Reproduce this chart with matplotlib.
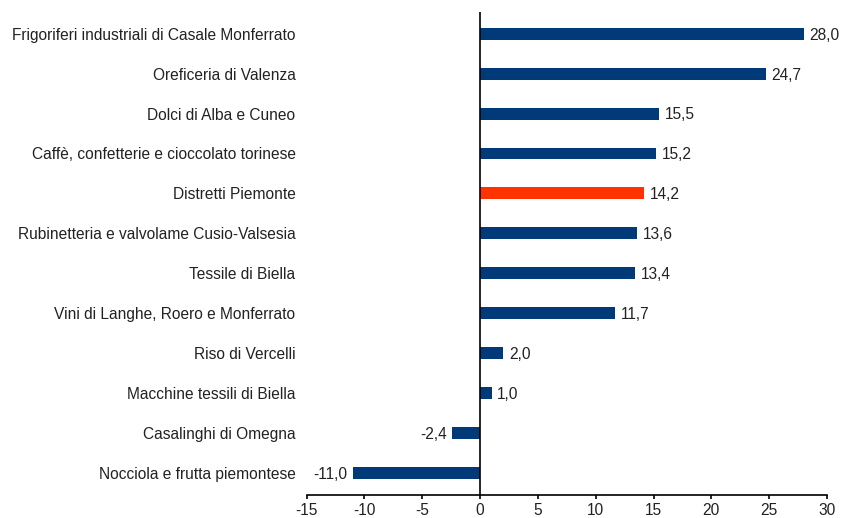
import matplotlib.pyplot as plt

categories = [
    "Frigoriferi industriali di Casale Monferrato",
    "Oreficeria di Valenza",
    "Dolci di Alba e Cuneo",
    "Caffè, confetterie e cioccolato torinese",
    "Distretti Piemonte",
    "Rubinetteria e valvolame Cusio-Valsesia",
    "Tessile di Biella",
    "Vini di Langhe, Roero e Monferrato",
    "Riso di Vercelli",
    "Macchine tessili di Biella",
    "Casalinghi di Omegna",
    "Nocciola e frutta piemontese",
]
values = [28.0, 24.7, 15.5, 15.2, 14.2, 13.6, 13.4, 11.7, 2.0, 1.0, -2.4, -11.0]
highlight = "Distretti Piemonte"

plt.rcParams['font.family'] = ['Liberation Sans', 'DejaVu Sans']
plt.rcParams['font.size'] = 11.2
plt.rcParams['axes.unicode_minus'] = False

fig = plt.figure(figsize=(8.46, 5.18), dpi=100)
ax = fig.add_axes([0.3625, 0.0444, 0.615, 0.933])

blue = '#003A78'
red = '#FF3300'
colors = [red if c == highlight else blue for c in categories]
ypos = list(range(len(categories)))
ax.barh(ypos, values, height=0.3, color=colors, zorder=2)

for y, v in zip(ypos, values):
    txt = f"{v:.1f}".replace('.', ',')
    if v >= 0:
        ax.annotate(txt, (v, y), xytext=(4, -1), textcoords='offset points',
                    ha='left', va='center', color='#222222')
    else:
        ax.annotate(txt, (v, y), xytext=(-4, -1), textcoords='offset points',
                    ha='right', va='center', color='#222222')

ax.set_xlim(-15, 30)
ax.set_xticks(range(-15, 31, 5))
ax.set_ylim(11.55, -0.55)
ax.set_yticks(ypos)
ax.set_yticklabels(categories)
ax.tick_params(axis='y', length=0, pad=8, colors='#222222')
ax.tick_params(axis='x', direction='out', length=3, pad=3, width=1.2,
               colors='black', labelcolor='#222222')

ax.axvline(0, color='black', linewidth=1.2, zorder=3)
for s in ['top', 'right', 'left']:
    ax.spines[s].set_visible(False)
ax.spines['bottom'].set_linewidth(1.2)

plt.savefig('out.png', dpi=100)
